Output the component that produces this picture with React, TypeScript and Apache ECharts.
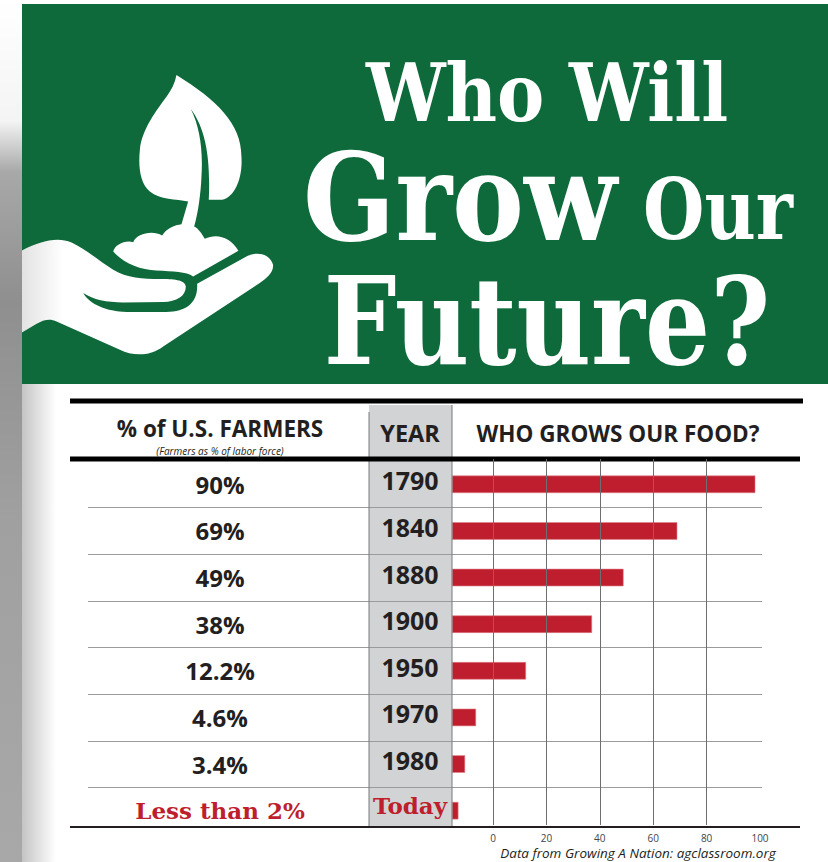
import React, { useEffect, useRef } from "react";
import * as echarts from "echarts";

const years = ["1790", "1840", "1880", "1900", "1950", "1970", "1980", "Today"];
const shares = ["90%", "69%", "49%", "38%", "12.2%", "4.6%", "3.4%", "Less than 2%"];
// Bar lengths as drawn in the picture (the bars start at the YEAR column, not at the axis's 0).
const barLengths = [113.5, 84.3, 64.2, 52.4, 27.7, 9, 4.9, 2.4];
const ticks = [0, 100];

const GREEN = "#0e6a3b";
const RED = "#be1e2d";
const GREY = "#d1d3d4";
const INK = "#231f20";
const SANS = "'Open Sans', 'Noto Sans', sans-serif";
const SLAB = "'DejaVu Serif', serif";

const LEAF =
  "M530 45 C650 120 725 190 725 290 C730 360 700 420 660 420 L627 420 C632 300 620 210 573 147 C600 200 610 270 605 350 C603 400 595 460 583 500 C595 505 605 520 615 537 C650 520 690 530 716 573 L580 650 C560 635 520 635 470 632 C420 630 370 610 340 575 C345 555 375 540 400 547 C410 520 460 510 487 527 C500 505 525 495 545 493 L565 425 C530 418 480 420 450 395 C420 370 415 320 420 270 C425 210 470 150 500 110 C515 90 525 70 530 45 Z " +
  "M66 572 C120 545 170 530 215 548 C260 570 300 605 340 630 C380 655 430 658 480 658 C520 658 555 660 558 680 C558 710 530 725 490 727 L370 728 C320 728 280 720 250 700 C270 735 320 755 380 757 L500 757 C560 755 595 730 592 672 L740 590 C770 575 810 580 820 615 C822 640 800 655 780 670 L490 860 C450 890 400 890 360 870 L170 785 C150 775 130 780 110 792 L66 818 Z";

echarts.graphic.registerShape("sprout", echarts.graphic.extendPath(LEAF, {}) as any);

const hl = (x1: number, x2: number, y: number, w: number, c = "#000") => ({
  type: "line", z: 5, shape: { x1, y1: y, x2, y2: y }, style: { stroke: c, lineWidth: w },
});
const vl = (x: number, y1: number, y2: number) => ({
  type: "line", z: 4, shape: { x1: x, y1, x2: x, y2 }, style: { stroke: "#77787b", lineWidth: 1 },
});
const txt = (x: number, y: number, text: string, font: string, fill: string, extra: any = {}) => ({
  type: "text", z: 6, x, y, ...extra,
  style: { text, font, fill, align: "center", verticalAlign: "middle" },
});

export default function App() {
  const ref = useRef<HTMLDivElement>(null);
  useEffect(() => {
    document.body.style.margin = "0";
    const chart = echarts.init(ref.current!, undefined, { renderer: "svg" });
    const gT = 461, gB = 834, cB = 827;
    const catAxis = (gridIndex: number, extra: any) => ({
      type: "category", gridIndex, inverse: true, axisLine: { show: false }, axisTick: { show: false },
      splitLine: { show: true, interval: 0, showMinLine: false, showMaxLine: false, lineStyle: { color: "#9a9b9d", width: 1 } },
      ...extra,
    });
    chart.setOption({
      animation: false,
      backgroundColor: "#fff",
      grid: [
        { left: 452, width: 310, top: gT, height: gB - gT },
        { left: 88, width: 364, top: gT, height: gB - gT },
        { left: 493, width: 267, top: 459, height: cB - 459 - 2 },
      ],
      xAxis: [
        { type: "value", gridIndex: 0, min: 0, max: 116, show: false },
        { type: "value", gridIndex: 1, min: 0, max: 1, show: false },
        {
          type: "value", gridIndex: 2, min: ticks[0], max: ticks[1], interval: 20, position: "bottom", z: 5,
          axisLine: { show: false }, axisTick: { show: false },
          splitLine: { show: true, showMinLine: true, showMaxLine: false, lineStyle: { color: "#6d6e71", width: 1 } },
          axisLabel: { fontFamily: SANS, fontSize: 10, color: "#444", margin: 8 },
        },
      ],
      yAxis: [
        catAxis(0, {
          data: years,
          axisLabel: {
            margin: 42, align: "center", interval: 0,
            formatter: (v: string) => (v === "Today" ? `{t|${v}}` : `{n|${v}}`),
            rich: {
              n: { fontFamily: SANS, fontWeight: 700, fontSize: 25, color: INK, padding: [0, 0, 8, 0] },
              t: { fontFamily: SLAB, fontWeight: "bold", fontSize: 23, color: RED, padding: [0, 0, 10, 0] },
            },
          },
        }),
        catAxis(1, {
          data: shares,
          axisLabel: {
            inside: true, margin: 132, align: "center", interval: 0,
            formatter: (v: string) => (v.startsWith("Less") ? `{t|${v}}` : `{n|${v}}`),
            rich: {
              n: { fontFamily: SANS, fontWeight: 700, fontSize: 24, color: INK },
              t: { fontFamily: SLAB, fontWeight: "bold", fontSize: 23, color: RED },
            },
          },
        }),
        { type: "category", gridIndex: 2, show: false, data: years },
      ],
      series: [
        {
          type: "bar", xAxisIndex: 0, yAxisIndex: 0, data: barLengths, barWidth: 17.5, z: 2,
          itemStyle: { color: RED, borderColor: "#e0808a", borderWidth: 0.6 },
        },
      ],
      graphic: [
        // page shadow at the left edge
        { type: "rect", z: -3, shape: { x: 0, y: 0, width: 22, height: 862 }, style: { fill: new echarts.graphic.LinearGradient(0, 0, 0, 1, [
          { offset: 0, color: "#ffffff" }, { offset: 0.14, color: "#f4f4f4" }, { offset: 0.2, color: "#a8a8a8" },
          { offset: 0.35, color: "#8f8f8f" }, { offset: 0.6, color: "#a0a0a0" }, { offset: 1, color: "#a8a8a8" },
        ]) as any } },
        { type: "rect", z: -3, shape: { x: 22, y: 384, width: 34, height: 478 }, style: { fill: new echarts.graphic.LinearGradient(0, 0, 1, 0, [
          { offset: 0, color: "#c4c4c4" }, { offset: 1, color: "#ffffff" },
        ]) as any } },
        // banner
        { type: "rect", z: 1, shape: { x: 22, y: 4, width: 806, height: 380 }, style: { fill: GREEN } },
        { type: "sprout", z: 2, x: 0, y: 60, scaleX: 1 / 3, scaleY: 1 / 3, style: { fill: new echarts.graphic.LinearGradient(66, 0, 190, 0, [
          { offset: 0, color: "#e2e2e2" }, { offset: 1, color: "#ffffff" },
        ], true) as any } },
        txt(547, 93, "Who Will", `bold 81px ${SLAB}`, "#fff", { scaleX: 0.875 }),
        txt(460, 197, "Grow", `bold 122px ${SLAB}`, "#fff", { scaleX: 0.885 }),
        txt(718, 209, "Our", `bold 85px ${SLAB}`, "#fff", { scaleX: 0.83 }),
        txt(547, 321, "Future?", `bold 122px ${SLAB}`, "#fff", { scaleX: 0.84 }),
        // table frame
        { type: "rect", z: -1, shape: { x: 369, y: 405, width: 83, height: 422 }, style: { fill: GREY } },
        vl(369, 412, 827), vl(452, 405, 827),
        hl(70, 803, 401, 5), hl(70, 800, 459, 5), hl(70, 800, 827, 2, "#231f20"),
        // headers
        txt(220, 428, "% of U.S. FARMERS", `700 22.5px ${SANS}`, INK),
        txt(220, 451, "(Farmers as % of labor force)", `italic 10px ${SANS}`, INK),
        txt(410, 433, "YEAR", `700 23.5px ${SANS}`, INK),
        txt(618, 433, "WHO GROWS OUR FOOD?", `700 22.5px ${SANS}`, INK),
        txt(638, 853, "Data from Growing A Nation: agclassroom.org", `italic 13.5px ${SANS}`, INK),
      ],
    });
    return () => chart.dispose();
  }, []);
  return <div ref={ref} style={{ position: "absolute", left: 0, top: 0, width: 828, height: 862 }} />;
}
